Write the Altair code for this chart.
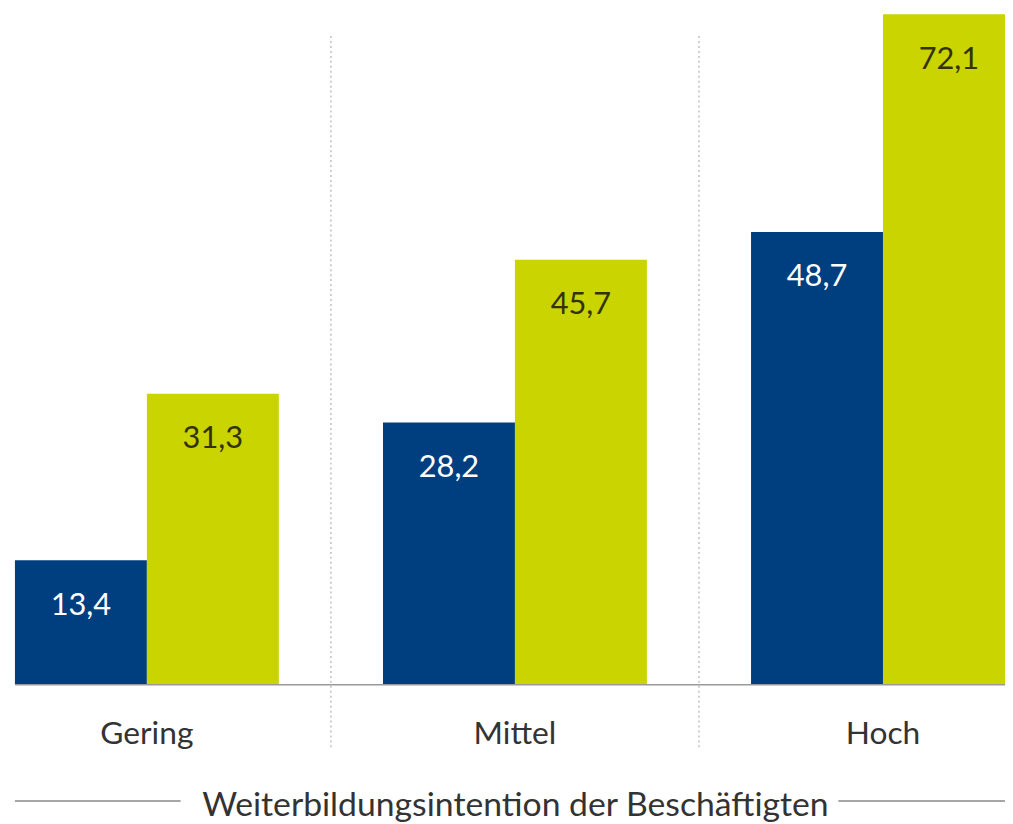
import altair as alt
import pandas as pd

categories = ["Gering", "Mittel", "Hoch"]
series = ["A", "B"]
values_a = [13.4, 28.2, 48.7]
values_b = [31.3, 45.7, 72.1]
axis_title = "Weiterbildungsintention der Beschäftigten"

rows = []
for c, a, b in zip(categories, values_a, values_b):
    rows.append({"cat": c, "series": "A", "value": a})
    rows.append({"cat": c, "series": "B", "value": b})
df = pd.DataFrame(rows)
df["label"] = df["value"].map(lambda v: f"{v:.1f}".replace(".", ","))

BLUE = "#003f7f"
LIME = "#c9d400"
FONT = "Lato"

xscale = alt.Scale(domain=categories, range=[-45.5, 1067.5], paddingInner=0, paddingOuter=0)
yscale = alt.Scale(domain=[0, 72.42], nice=False, zero=True)
xoff = alt.XOffset("series:N", scale=alt.Scale(domain=series, paddingInner=0, paddingOuter=0.3947))

xaxis = alt.Axis(labelAngle=0, domain=False, ticks=False, grid=False,
                 labelFont=FONT, labelFontSize=32, labelColor="#333333", labelPadding=34,
                 titleFont=FONT, titleFontSize=34, titleFontWeight="normal",
                 titleColor="#333333", titlePadding=40)


def xenc(**kw):
    return alt.X("cat:N", scale=xscale, sort=categories, title=axis_title, axis=xaxis, **kw)


bars = alt.Chart(df).mark_bar(clip=True).encode(
    x=xenc(),
    xOffset=xoff,
    y=alt.Y("value:Q", scale=yscale, axis=None),
    color=alt.Color("series:N", scale=alt.Scale(domain=series, range=[BLUE, LIME]), legend=None),
)

labels = alt.Chart(df).mark_text(font=FONT, fontSize=31, baseline="middle", align="center", dy=46).encode(
    x=xenc(),
    xOffset=xoff,
    y=alt.Y("value:Q", scale=yscale, axis=None),
    text="label:N",
    color=alt.Color("series:N", scale=alt.Scale(domain=series, range=["#ffffff", "#333300"]), legend=None),
)

sep_df = pd.DataFrame({"cat": categories[1:]})
seps = alt.Chart(sep_df).mark_rule(color="#b0b0b0", strokeDash=[2, 3], strokeWidth=1.2).encode(
    x=xenc(bandPosition=0),
    y=alt.value(25),
    y2=alt.value(745),
)

baseline = alt.Chart(pd.DataFrame({"value": [0]})).mark_rule(color="#999999", strokeWidth=1.5).encode(
    y=alt.Y("value:Q", scale=yscale, axis=None),
    x=alt.value(7),
    x2=alt.value(1005),
)

title_lines = alt.Chart(pd.DataFrame({"k": [0]})).mark_rule(
    color="#888888", strokeWidth=1.5
).encode(
    x=alt.value(7),
    x2=alt.value(174),
    y=alt.value(796),
)
title_lines_r = alt.Chart(pd.DataFrame({"k": [0]})).mark_rule(
    color="#888888", strokeWidth=1.5
).encode(
    x=alt.value(837),
    x2=alt.value(1005),
    y=alt.value(796),
)

chart = alt.layer(seps, bars, labels, baseline, title_lines, title_lines_r).resolve_scale(
    color="independent"
).properties(
    width=1005, height=679,
    padding={"left": 0, "right": 0, "top": 0, "bottom": 140},
    autosize=alt.AutoSizeParams(type="none"),
).configure_view(stroke=None)

chart.save("out.html", embed_options={"renderer": "svg", "actions": False})
